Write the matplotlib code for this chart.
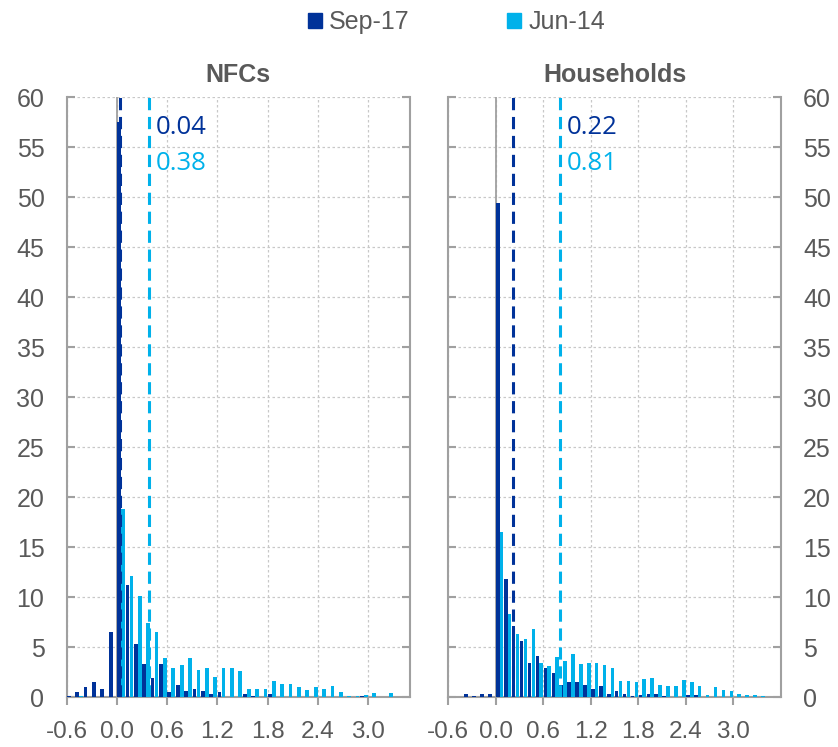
import matplotlib
matplotlib.use("Agg")
import matplotlib.pyplot as plt
from matplotlib.patches import Patch
import numpy as np

DARK = "#003299"
LIGHT = "#00B1EA"
GREY = "#A0A0A0"
TEXT = "#595959"

plt.rcParams["font.family"] = ["Liberation Sans", "DejaVu Sans"]

# bins of 0.1 width, labelled by left edge
nfc_bins = np.round(np.arange(-0.6, 3.45, 0.1), 1)
hh_bins = np.round(np.arange(-0.6, 3.55, 0.1), 1)

nfc_sep17 = [0.13, 0.47, 1.0, 1.53, 0.83, 6.5,
             57.5, 11.2, 5.3, 3.3, 1.9, 3.3, 0.47, 1.2, 0.63, 0.8,
             0.63, 0.3, 0.47, 0, 0, 0.3, 0.13, 0, 0.3, 0,
             0, 0, 0, 0, 0, 0, 0, 0, 0, 0.1,
             0, 0, 0, 0, 0]
nfc_jun14 = [0, 0.1, 0, 0, 0, 0,
             18.8, 12.1, 10.1, 7.4, 6.5, 3.9, 2.9, 3.2, 3.9, 2.7,
             2.9, 2.0, 2.9, 2.9, 2.6, 0.8, 0.8, 0.8, 1.57, 1.3,
             1.3, 1.0, 0.67, 1.0, 0.8, 1.13, 0.53, 0.13, 0.13, 0.23,
             0.4, 0, 0.4, 0, 0]

hh_sep17 = [0, 0, 0.27, 0.07, 0.33, 0.27,
            49.4, 11.8, 7.07, 5.6, 3.43, 4.13, 2.87, 2.4, 1.2, 1.5,
            1.5, 1.2, 0.83, 1.1, 0.33, 0.6, 0.33, 0.13, 0.17, 0.27,
            0.27, 0.1, 0.05, 0, 0.17, 0.17, 0, 0, 0, 0,
            0, 0, 0, 0, 0, 0]
hh_jun14 = [0, 0, 0, 0, 0, 0,
            16.5, 8.3, 6.27, 5.77, 6.77, 3.43, 3.07, 3.97, 3.57, 4.27,
            3.33, 3.43, 3.43, 3.17, 2.93, 1.57, 1.57, 1.47, 1.8, 1.9,
            1.17, 1.07, 1.07, 1.67, 1.47, 1.07, 0.17, 0.97, 0.67, 0.57,
            0.33, 0.23, 0.17, 0.07, 0, 0]

nfc_means = (0.04, 0.38)
hh_means = (0.22, 0.81)

xticks = [-0.6, 0.0, 0.6, 1.2, 1.8, 2.4, 3.0]
yticks = list(range(0, 61, 5))


def panel(ax, bins, sep, jun, means, title, right_labels):
    w = 0.045
    ax.bar(bins + 0.025, sep, width=w, color=DARK, zorder=3)
    ax.bar(bins + 0.073, jun, width=w, color=LIGHT, zorder=3)
    ax.set_xlim(bins[0], bins[-1] + 0.1)
    ax.set_ylim(0, 60)
    ax.set_xticks(xticks)
    ax.set_xticklabels([f"{t:.1f}" for t in xticks])
    ax.set_yticks(yticks)
    ax.grid(True, color="#C8C8C8", linestyle=(0, (2, 2)), linewidth=0.9, zorder=0)
    ax.axvline(0, color=GREY, linewidth=1.3, zorder=2)
    ax.axvline(means[0], color=DARK, linestyle=(0, (4, 2.2)), linewidth=2.2, zorder=4)
    ax.axvline(means[1], color=LIGHT, linestyle=(0, (4, 2.2)), linewidth=2.2, zorder=4)
    tx = means[1] + 0.08
    fam = ["Open Sans", "DejaVu Sans"]
    ax.text(tx, 57, f"{means[0]:.2f}", color=DARK, fontsize=18.5,
            family=fam, va="center", ha="left", zorder=5)
    ax.text(tx, 53.4, f"{means[1]:.2f}", color=LIGHT, fontsize=18.5,
            family=fam, va="center", ha="left", zorder=5)
    ax.set_title(title, fontsize=18, fontweight="bold", color=TEXT, pad=11)
    for s in ("left", "right", "bottom"):
        ax.spines[s].set_color(GREY)
        ax.spines[s].set_linewidth(1.5)
    ax.spines["top"].set_visible(False)
    ax.tick_params(axis="x", direction="out", length=6, width=1.5, color=GREY,
                   labelsize=17.5, labelcolor=TEXT, pad=11)
    ax.tick_params(axis="y", direction="in", length=6, width=1.5, color=GREY,
                   labelsize=18, labelcolor=TEXT, pad=16, left=True, right=True,
                   labelleft=not right_labels, labelright=right_labels)


fig = plt.figure(figsize=(8.38, 7.47), dpi=100)
ax1 = fig.add_axes([0.0796, 0.0669, 0.4097, 0.8032])
ax2 = fig.add_axes([0.535, 0.0669, 0.397, 0.8032])

panel(ax1, nfc_bins, nfc_sep17, nfc_jun14, nfc_means, "NFCs", False)
panel(ax2, hh_bins, hh_sep17, hh_jun14, hh_means, "Households", True)

handles = [Patch(color=DARK), Patch(color=LIGHT)]
leg = fig.legend(handles, ["Sep-17", "Jun-14"], loc="center", ncol=2,
                 bbox_to_anchor=(0.545, 0.970), frameon=False, fontsize=18,
                 handlelength=0.55, handleheight=0.55, handletextpad=0.3,
                 columnspacing=3.9)
for t in leg.get_texts():
    t.set_color(TEXT)

fig.savefig("out.png", dpi=100)
